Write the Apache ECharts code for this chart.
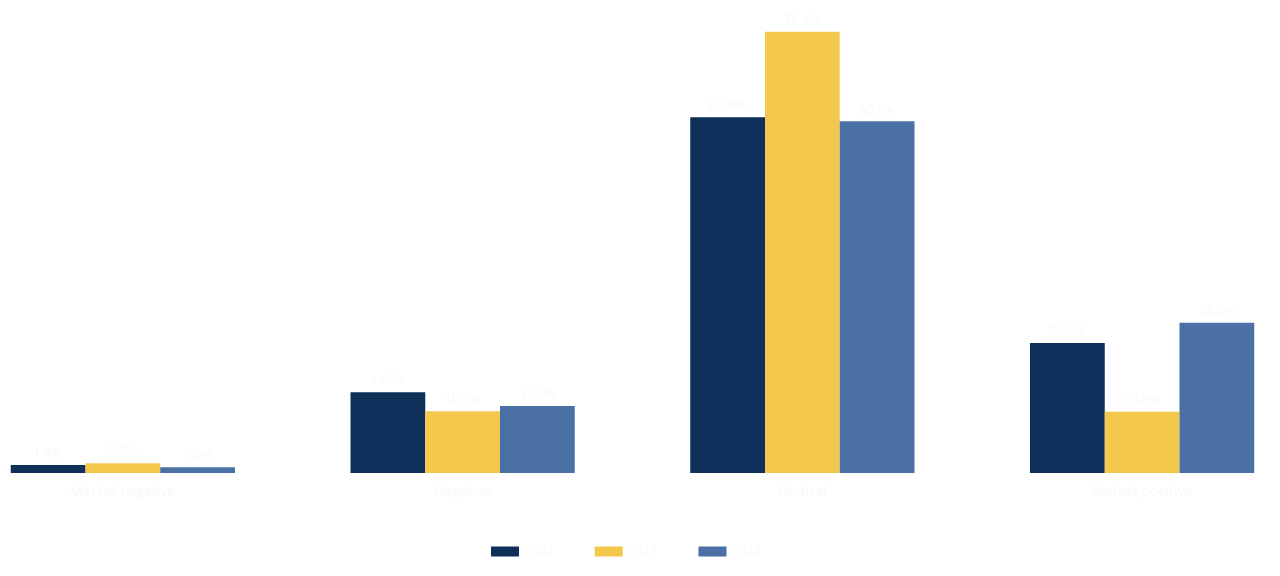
<!DOCTYPE html>
<html>
<head>
<meta charset="UTF-8">
<title>sentiment-bars</title>
<script src="https://cdn.jsdelivr.net/npm/echarts@6/dist/echarts.min.js"></script>
<style>
html, body { margin: 0; padding: 0; background: #fff; overflow: hidden; width: 1280px; height: 576px; position: relative; }
/* the plot bands run past the page edges, so the canvas is wider than the window */
#main { width: 1359px; height: 576px; position: absolute; left: -47px; top: 0; }
</style>
</head>
<body>
<div id="main"></div>
<script>
// categories and series (share in %)
var categories = ['Market negative', 'Negative', 'Neutral', 'Market positive'];
var seriesNames = ['2022', '2023', '2024'];
var values2022 = [1.4, 14.0, 61.6, 22.5];
var values2023 = [1.7, 10.7, 76.4, 10.6];
var values2024 = [1.0, 11.6, 60.9, 26.0];
var colors = ['#0d2f5a', '#f3c84c', '#4a70a6'];

var faint = '#f8f8f8';

var chart = echarts.init(document.getElementById('main'));

function makeSeries(name, data, color) {
  return {
    name: name,
    type: 'bar',
    data: data,
    barGap: '0%',
    barCategoryGap: '34%',
    itemStyle: { color: color },
    label: {
      show: true,
      position: 'top',
      color: faint,
      fontSize: 13,
      fontFamily: 'Open Sans',
      formatter: function (p) { return p.value.toFixed(1) + '%'; }
    }
  };
}

chart.setOption({
  animation: false,
  color: colors,
  grid: { left: 0, right: 0, top: 11, bottom: 103, containLabel: false },
  legend: {
    bottom: 13,
    left: 533,
    itemWidth: 28,
    itemHeight: 10,
    itemGap: 41,
    icon: 'rect',
    textStyle: { color: faint, fontSize: 13, fontFamily: 'Open Sans' },
    data: seriesNames
  },
  xAxis: {
    type: 'category',
    data: categories,
    axisLine: { show: false },
    axisTick: { show: false },
    axisLabel: { color: faint, fontSize: 14, margin: 12, fontFamily: 'Open Sans' }
  },
  yAxis: {
    type: 'value',
    min: 0,
    max: 80,
    show: false,
    splitLine: { show: false }
  },
  series: [
    makeSeries(seriesNames[0], values2022, colors[0]),
    makeSeries(seriesNames[1], values2023, colors[1]),
    makeSeries(seriesNames[2], values2024, colors[2])
  ]
});
</script>
</body>
</html>
